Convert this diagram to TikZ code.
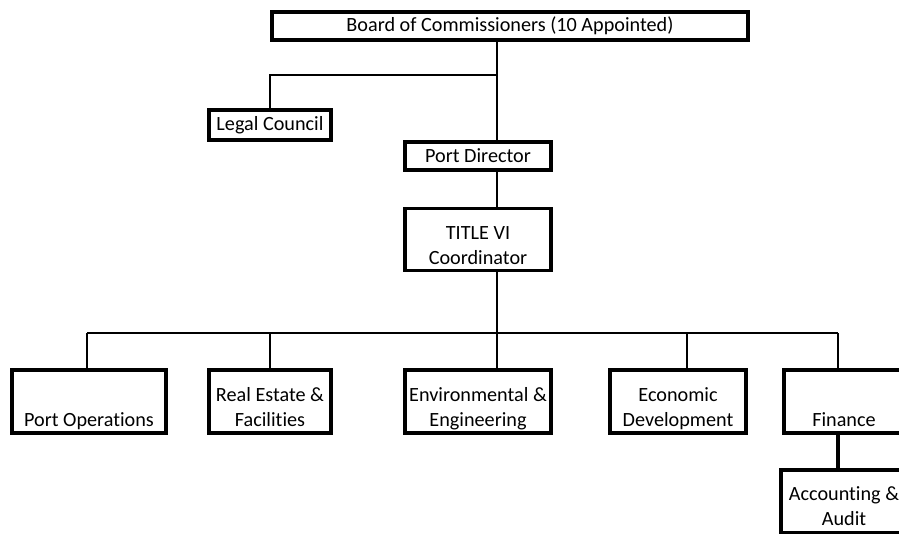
\documentclass[tikz,border=0pt]{standalone}
\usepackage{fontspec}
\setmainfont[Ligatures=NoCommon]{Carlito}
\usepackage{tikz}
\usetikzlibrary{positioning}

\tikzset{
  unit/.style={draw, line width=3.8pt, inner sep=0pt, align=center},
  lbl/.style={inner sep=0pt, align=center},
  link/.style={line width=2.2pt},
}

\begin{document}
\begin{tikzpicture}[x=1pt, y=-1pt, every node/.style={font=\fontsize{20.2}{25}\selectfont}]
\useasboundingbox (0,0) rectangle (899,533);
\clip (0,0) rectangle (899,533);
% top of the chart
\node[unit, minimum width=476, minimum height=28] (board) at (510,26) {Board of Commissioners (10 Appointed)};
\node[unit, minimum width=122, minimum height=30] (legal) at (270,125) {Legal Council};
\node[unit, minimum width=146, minimum height=28] (director) at (478,156) {Port Director};
\node[unit, minimum width=146, minimum height=62] (title) at (478,239.5) {};
% departments
\node[unit, minimum width=154, minimum height=63] (ops) at (89,401.5) {};
\node[unit, minimum width=122, minimum height=63] (estate) at (270,401.5) {};
\node[unit, minimum width=146, minimum height=63] (enviro) at (478,401.5) {};
\node[unit, minimum width=136, minimum height=63] (econ) at (678,401.5) {};
\node[unit, minimum width=120, minimum height=63] (finance) at (844,401.5) {};
\node[unit, minimum width=126, minimum height=63] (audit) at (844,501.5) {};
% texts sit low in the boxes
\node[lbl, above=0.5pt of title.south] (titlel) {TITLE VI\\Coordinator\strut};
\node[lbl, above=0.5pt of ops.south] (opsl) {Port Operations\strut};
\node[lbl, above=0.5pt of estate.south] (estatel) {Real Estate \&\\Facilities\strut};
\node[lbl, above=0.5pt of enviro.south] (envirol) {Environmental \&\\Engineering\strut};
\node[lbl, above=0.5pt of econ.south] (econl) {Economic\\Development\strut};
\node[lbl, above=0.5pt of finance.south] (financel) {Finance\strut};
\node[lbl, above=2pt of audit.south] (auditl) {Accounting \&\\Audit\strut};
% connectors
\coordinate (trunk) at (497,75);
\coordinate (bus) at (497,333);
\coordinate (d1) at (87,333);
\coordinate (d2) at (270,333);
\coordinate (d4) at (687,333);
\coordinate (d5) at (838,333);
\draw[link] (board.south -| trunk) -- (director.north -| trunk);
\draw[link] (legal.north) |- (trunk);
\draw[link] (director.south -| trunk) -- (title.north -| trunk);
\draw[link] (title.south -| trunk) -- (bus);
\draw[link] (d1) -- (d5);
\foreach \d/\dept in {d1/ops,d2/estate,bus/enviro,d4/econ,d5/finance}
  \draw[link] (\d) -- (\d |- \dept.north);
\draw[line width=3.5pt] (finance.south -| d5) -- (audit.north -| d5);
\end{tikzpicture}
\end{document}
